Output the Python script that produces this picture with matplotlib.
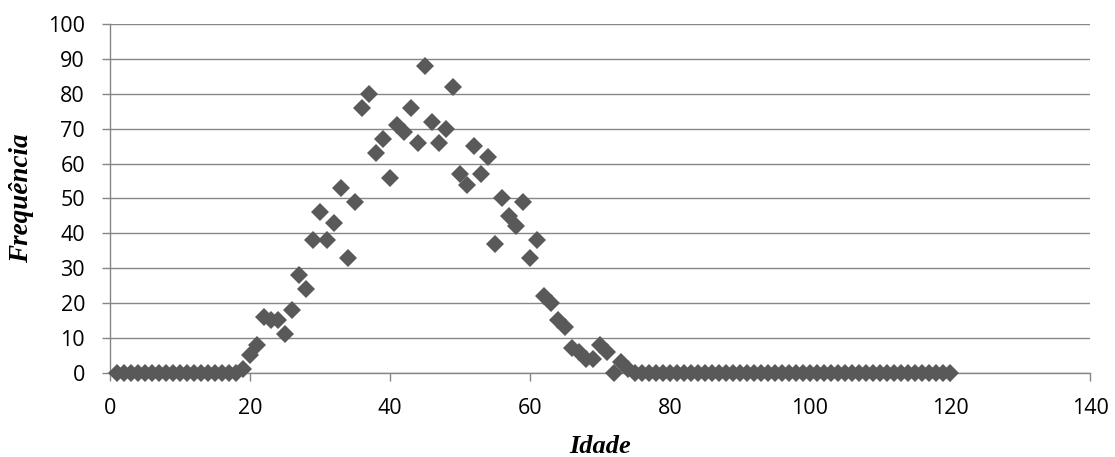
import matplotlib.pyplot as plt

# Idade (1..120) e frequência observada
idade = list(range(1, 121))
freq_19_74 = [1, 5, 8, 16, 15, 15, 11, 18, 28, 24,      # 19-28
              38, 46, 38, 43, 53, 33, 49, 76, 80, 63,     # 29-38
              67, 56, 71, 69, 76, 66, 88, 72, 66, 70,     # 39-48
              82, 57, 54, 65, 57, 62, 37, 50, 45, 42,     # 49-58
              49, 33, 38, 22, 20, 15, 13, 7, 6, 4,        # 59-68
              4, 8, 6, 0, 3, 1]                           # 69-74
frequencia = [0] * 18 + freq_19_74 + [0] * (120 - 74)

x_ticks = [0, 20, 40, 60, 80, 100, 120, 140]
y_ticks = list(range(0, 101, 10))

cinza = '#868686'

fig = plt.figure(figsize=(11.15, 4.57), dpi=100)
ax = fig.add_axes([0.0987, 0.1845, 0.8789, 0.7623])

ax.plot(idade, frequencia, linestyle='none', marker='D', markersize=9.5,
        color='#595959', markeredgewidth=0, clip_on=False, zorder=5)

ax.set_xlim(0, 140)
ax.set_ylim(0, 100)
ax.set_xticks(x_ticks)
ax.set_yticks(y_ticks)

ax.grid(axis='y', color=cinza, linewidth=1)
ax.set_axisbelow(True)
for s in ['top', 'right']:
    ax.spines[s].set_visible(False)
for s in ['left', 'bottom']:
    ax.spines[s].set_color(cinza)
    ax.spines[s].set_linewidth(1)

ax.tick_params(axis='x', direction='out', length=6, color=cinza, width=1,
               labelsize=15.5, pad=12)
ax.tick_params(axis='y', direction='out', length=6, color=cinza, width=1,
               labelsize=15.5, pad=12)
for lab in ax.get_xticklabels() + ax.get_yticklabels():
    lab.set_family('Open Sans')

ax.set_xlabel('Idade', fontsize=19, fontweight='bold', style='italic',
              family='Liberation Serif')
ax.set_ylabel('Frequência', fontsize=19.5, fontweight='bold', style='italic',
              family='Liberation Serif')
ax.xaxis.set_label_coords(0.5, -0.178)
ax.yaxis.set_label_coords(-0.0776, 0.5)

fig.savefig('out.png', dpi=100)
